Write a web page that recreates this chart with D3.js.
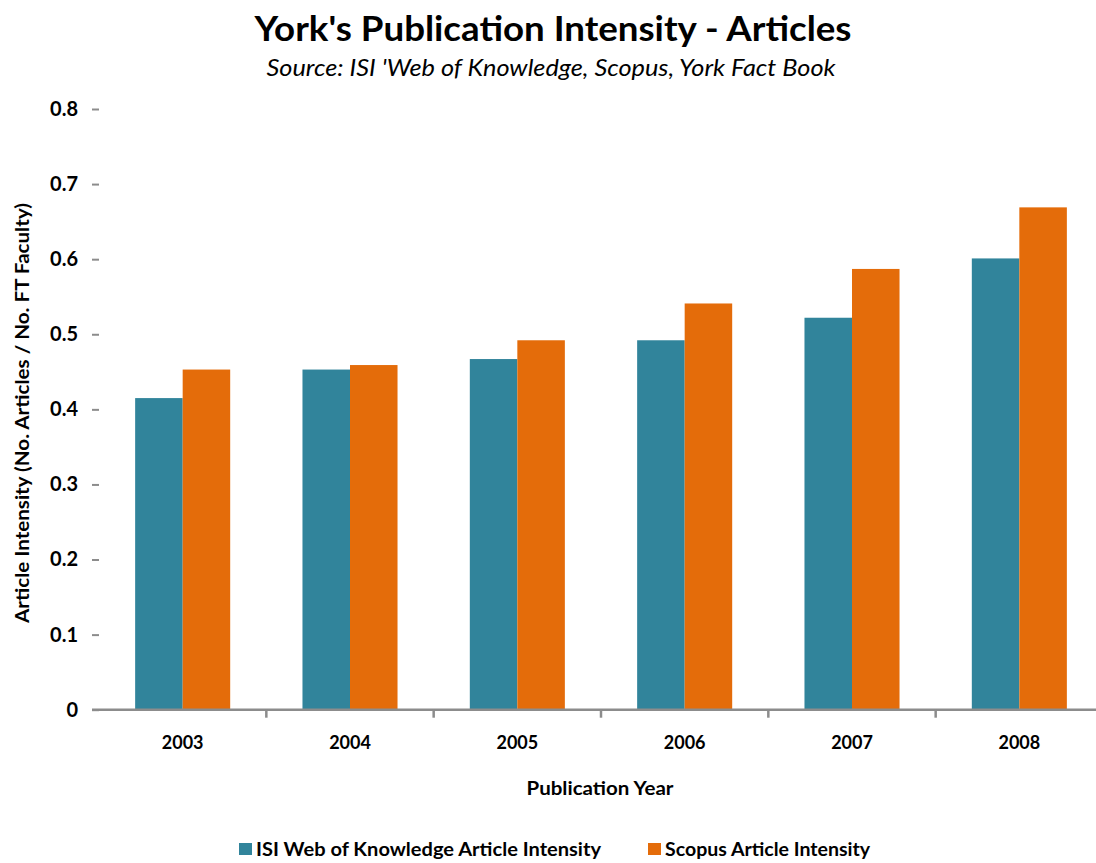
<!DOCTYPE html>
<html>
<head>
<meta charset="utf-8">
<script src="https://cdn.jsdelivr.net/npm/d3@7"></script>
<style>
  html, body { margin: 0; padding: 0; background: #fff; }
  svg { display: block; }
  svg text { font-family: Lato, "Open Sans", sans-serif; }
</style>
</head>
<body>
<svg id="chart" width="1096" height="863"></svg>
<script>
// ---- data ----
const years = ["2003", "2004", "2005", "2006", "2007", "2008"];
const isiValues = [0.415, 0.453, 0.467, 0.492, 0.522, 0.601];
const scopusValues = [0.453, 0.459, 0.492, 0.541, 0.587, 0.669];
const seriesNames = ["ISI Web of Knowledge Article Intensity", "Scopus Article Intensity"];
const yTicks = [0, 0.1, 0.2, 0.3, 0.4, 0.5, 0.6, 0.7, 0.8];

const colors = ["#31849B", "#E46C0A"];
const seriesValues = [isiValues, scopusValues];

const svg = d3.select("#chart");
const plot = { left: 99, right: 1103, top: 109, bottom: 709.7 };

const x0 = d3.scaleBand().domain(years).range([plot.left, plot.right])
  .paddingInner(0.432).paddingOuter(0.216);
const x1 = d3.scaleBand().domain([0, 1]).range([0, x0.bandwidth()]);
const y = d3.scaleLinear().domain([0, 0.8]).range([plot.bottom, plot.top]);

// Title
svg.append("text").attr("x", 553).attr("y", 41).attr("text-anchor", "middle")
  .attr("textLength", 597).attr("lengthAdjust", "spacingAndGlyphs")
  .style("font-size", "35px").style("font-weight", "bold").attr("fill", "#000")
  .text("York's Publication Intensity - Articles");
svg.append("text").attr("x", 551).attr("y", 76).attr("text-anchor", "middle")
  .attr("textLength", 569).attr("lengthAdjust", "spacingAndGlyphs")
  .style("font-size", "23px").style("font-style", "italic").attr("fill", "#000")
  .text("Source: ISI 'Web of Knowledge, Scopus, York Fact Book");

// Bars
const groups = svg.append("g").selectAll("g").data(years).join("g")
  .attr("transform", d => `translate(${x0(d)},0)`);
groups.selectAll("rect")
  .data((d, i) => seriesValues.map((vals, s) => ({ s, v: vals[i] })))
  .join("rect")
  .attr("x", d => x1(d.s))
  .attr("width", x1.bandwidth())
  .attr("y", d => y(d.v))
  .attr("height", d => y(0) - y(d.v))
  .attr("fill", d => colors[d.s]);

// Y axis (ticks only, no domain line)
const yAxis = d3.axisLeft(y).tickValues(yTicks).tickSize(7).tickPadding(14)
  .tickFormat(d => d === 0 ? "0" : d3.format(".1f")(d));
const gy = svg.append("g").attr("transform", `translate(${plot.left},0)`).call(yAxis);
gy.attr("font-family", null);
gy.select(".domain").remove();
gy.selectAll(".tick line").attr("stroke", "#8c8c8c").attr("stroke-width", 2);
gy.selectAll(".tick text").style("font-size", "20px").style("font-weight", "bold")
  .attr("fill", "#000");

// X axis
const xAxis = d3.axisBottom(x0).tickSize(0).tickPadding(27);
const gx = svg.append("g").attr("transform", `translate(0,${plot.bottom})`).call(xAxis);
gx.attr("font-family", null);
gx.select(".domain").remove();
gx.selectAll(".tick text").style("font-size", "18px").style("font-weight", "bold").attr("fill", "#000");
gx.append("line").attr("x1", plot.left - 7).attr("x2", plot.right).attr("y1", 0).attr("y2", 0)
  .attr("stroke", "#8c8c8c").attr("stroke-width", 2.5);
// category separator ticks
const step = x0.step();
gx.selectAll(".sep").data(years.slice(1)).join("line").attr("class", "sep")
  .attr("x1", d => x0(d) - x0.paddingInner() * step / 2)
  .attr("x2", d => x0(d) - x0.paddingInner() * step / 2)
  .attr("y1", 0).attr("y2", 8)
  .attr("stroke", "#8c8c8c").attr("stroke-width", 2.5);

// Axis titles
svg.append("text").attr("x", 600).attr("y", 795).attr("text-anchor", "middle")
  .attr("textLength", 147).attr("lengthAdjust", "spacingAndGlyphs")
  .style("font-size", "19px").style("font-weight", "bold").attr("fill", "#000")
  .text("Publication Year");
svg.append("text").attr("transform", "translate(22,413) rotate(-90)").attr("text-anchor", "middle")
  .attr("dy", "0.35em")
  .attr("textLength", 420).attr("lengthAdjust", "spacingAndGlyphs")
  .style("font-size", "19px").style("font-weight", "bold").attr("fill", "#000")
  .text("Article Intensity (No. Articles / No. FT Faculty)");

// Legend
const legendX = [239, 648];
const legendLen = [345, 205];
const lg = svg.append("g").selectAll("g").data(seriesNames).join("g")
  .attr("transform", (d, i) => `translate(${legendX[i]},843)`);
lg.append("rect").attr("width", 13).attr("height", 12).attr("fill", (d, i) => colors[i]);
lg.append("text").attr("x", 17).attr("y", 12.5)
  .attr("textLength", (d, i) => legendLen[i]).attr("lengthAdjust", "spacingAndGlyphs")
  .style("font-size", "18px").style("font-weight", "bold").attr("fill", "#000")
  .text(d => d);
</script>
</body>
</html>
